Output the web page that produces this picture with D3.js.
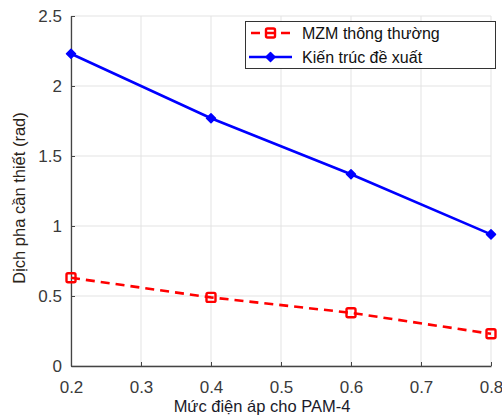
<!DOCTYPE html>
<html><head><meta charset="utf-8">
<script src="https://cdn.jsdelivr.net/npm/d3@7"></script>
<style>body{margin:0;background:#fff;}svg{display:block;font-family:"Liberation Sans",Arial,sans-serif;}</style>
</head><body>
<svg id="c" width="502" height="418"></svg>
<script>
const xValues = [0.2, 0.4, 0.6, 0.8];
const mzmValues = [0.63, 0.49, 0.38, 0.23];
const proposedValues = [2.23, 1.77, 1.37, 0.94];
const seriesNames = ["MZM thông thường", "Kiến trúc đề xuất"];
const xTicks = [0.2, 0.3, 0.4, 0.5, 0.6, 0.7, 0.8];
const yTicks = [0, 0.5, 1, 1.5, 2, 2.5];
const xLabel = "Mức điện áp cho PAM-4";
const yLabel = "Dịch pha cần thiết (rad)";

const svg = d3.select("#c");
const L = 71, R = 491, T = 16, B = 366;
const x = d3.scaleLinear().domain([0.2, 0.8]).range([L, R]);
const y = d3.scaleLinear().domain([0, 2.5]).range([B, T]);

// grid
const g = svg.append("g");
g.selectAll(".gx").data(xTicks).enter().append("line")
  .attr("x1", d => x(d)).attr("x2", d => x(d)).attr("y1", T).attr("y2", B)
  .attr("stroke", "#e3e3e3").attr("stroke-width", 1);
g.selectAll(".gy").data(yTicks).enter().append("line")
  .attr("x1", L).attr("x2", R).attr("y1", d => y(d)).attr("y2", d => y(d))
  .attr("stroke", "#e3e3e3").attr("stroke-width", 1);

// axes
const xAxis = d3.axisBottom(x).tickValues(xTicks).tickSizeInner(-4).tickSizeOuter(0).tickPadding(15).tickFormat(d3.format(".1f"));
const yAxis = d3.axisLeft(y).tickValues(yTicks).tickSizeInner(-4).tickSizeOuter(0).tickPadding(9).tickFormat(d => d3.format("")(d));
const gx = svg.append("g").attr("transform", `translate(0,${B})`).call(xAxis);
const gy = svg.append("g").attr("transform", `translate(${L},0)`).call(yAxis);
[gx, gy].forEach(a => {
  a.select(".domain").attr("stroke", "#444").attr("stroke-width", 1.3);
  a.selectAll(".tick line").attr("stroke", "#444");
  a.selectAll(".tick text").attr("fill", "#3a3a3a").style("font-size", "17px").style("font-family", "Liberation Sans, Arial, sans-serif");
});

// labels
svg.append("text").attr("x", 262).attr("y", 412).attr("text-anchor", "middle")
  .style("font-size", "16.5px").attr("fill", "#1a1a2a").text(xLabel);
svg.append("text").attr("transform", `translate(25,198) rotate(-90)`).attr("text-anchor", "middle")
  .style("font-size", "16.5px").attr("fill", "#2a2318").text(yLabel);

const line = d3.line().x(d => x(d[0])).y(d => y(d[1]));
const mzm = xValues.map((v, i) => [v, mzmValues[i]]);
const prop = xValues.map((v, i) => [v, proposedValues[i]]);

svg.append("path").datum(mzm).attr("d", line).attr("fill", "none")
  .attr("stroke", "#ff0000").attr("stroke-width", 2.6).attr("stroke-dasharray", "9,6");
svg.append("path").datum(prop).attr("d", line).attr("fill", "none")
  .attr("stroke", "#0000ff").attr("stroke-width", 2.6);

function sq(sel, cx, cy) {
  sel.append("rect").attr("x", cx - 4.5).attr("y", cy - 4.5).attr("width", 9).attr("height", 9)
    .attr("rx", 1.5).attr("fill", "none").attr("stroke", "#ff0000").attr("stroke-width", 2.4);
}
function dia(sel, cx, cy) {
  sel.append("path").attr("d", `M${cx},${cy - 4.5}L${cx + 4.5},${cy}L${cx},${cy + 4.5}L${cx - 4.5},${cy}Z`)
    .attr("fill", "#0000ff").attr("stroke", "#0000ff").attr("stroke-width", 1.5).attr("stroke-linejoin", "round");
}
mzm.forEach(d => sq(svg, x(d[0]), y(d[1])));
prop.forEach(d => dia(svg, x(d[0]), y(d[1])));

// legend
const lg = svg.append("g");
lg.append("rect").attr("x", 245.5).attr("y", 21.5).attr("width", 250).attr("height", 47)
  .attr("fill", "#fff").attr("stroke", "#333").attr("stroke-width", 1);
const rows = [33, 57];
lg.append("line").attr("x1", 249).attr("x2", 292).attr("y1", rows[0]).attr("y2", rows[0])
  .attr("stroke", "#ff0000").attr("stroke-width", 2.6).attr("stroke-dasharray", "9,6").attr("stroke-dashoffset", -2);
sq(lg, 270.5, rows[0]);
lg.append("line").attr("x1", 249).attr("x2", 292).attr("y1", rows[1]).attr("y2", rows[1])
  .attr("stroke", "#0000ff").attr("stroke-width", 2.6);
dia(lg, 270.5, rows[1]);
seriesNames.forEach((n, i) => {
  lg.append("text").attr("x", 302).attr("y", rows[i] + 5.5).style("font-size", "16px").attr("fill", "#111").text(n);
});
</script>
</body></html>
